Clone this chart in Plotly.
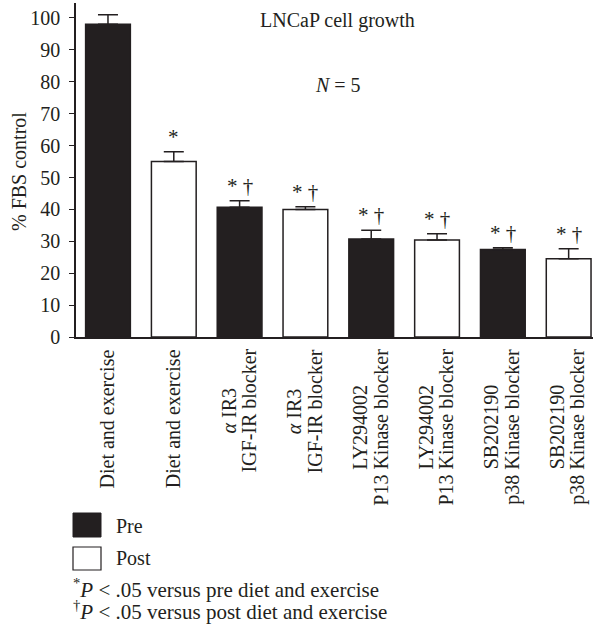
import plotly.graph_objects as go

# LNCaP cell growth under serum from pre/post diet-and-exercise subjects
categories = [
    "Diet and exercise",
    "Diet and exercise",
    "<i>α</i> IR3<br>IGF-IR blocker",
    "<i>α</i> IR3<br>IGF-IR blocker",
    "LY294002<br>P13 Kinase blocker",
    "LY294002<br>P13 Kinase blocker",
    "SB202190<br>p38 Kinase blocker",
    "SB202190<br>p38 Kinase blocker",
]
groups = ["Pre", "Post", "Pre", "Post", "Pre", "Post", "Pre", "Post"]
values = [98.0, 55.0, 40.7, 40.0, 30.7, 30.4, 27.4, 24.5]
errors = [3.0, 3.1, 2.0, 0.8, 2.8, 2.0, 0.6, 3.2]
marks = ["", "*", "* †", "* †", "* †", "* †", "* †", "* †"]

y_ticks = [0, 10, 20, 30, 40, 50, 60, 70, 80, 90, 100]

INK = "#231f20"
FONT = "Times New Roman, Liberation Serif, serif"
FS = 20

W, H = 597, 627
L, R, T, B = 76, 4, 3, 290
pw, ph = W - L - R, H - T - B


def px(x):
    return (x - L) / pw


def py(y):
    return (H - B - y) / ph


def txt(size=FS):
    return dict(family=FONT, size=size, color=INK)


fig = go.Figure()

for grp, fill in (("Pre", INK), ("Post", "white")):
    idx = [i for i, g in enumerate(groups) if g == grp]
    fig.add_trace(go.Bar(
        x=idx,
        y=[values[i] for i in idx],
        width=0.68,
        name=grp,
        marker=dict(color=fill, line=dict(color=INK, width=1.5)),
        error_y=dict(type="data", symmetric=False,
                     array=[errors[i] for i in idx],
                     arrayminus=[0] * len(idx),
                     color=INK, thickness=1.5, width=10),
        showlegend=False,
    ))

annotations = []

# significance marks above the error bars
for i, (v, e, m) in enumerate(zip(values, errors, marks)):
    if m:
        annotations.append(dict(x=i, y=v + e, xref="x", yref="y", text=m,
                                showarrow=False, yanchor="bottom", yshift=1,
                                font=txt(21)))

# rotated category labels under the axis; the base font is smaller so the
# line pitch stays tight while each line is drawn at full size
for i, c in enumerate(categories):
    body = "<br>".join(f"<span style='font-size:{FS}px'>{ln}</span>"
                       for ln in c.split("<br>"))
    annotations.append(dict(x=i, y=0, xref="x", yref="paper", text=body,
                            showarrow=False, textangle=-90, align="center",
                            xanchor="center", yanchor="top",
                            xshift=-1, yshift=-10, font=txt(16)))

annotations += [
    dict(x=px(19), y=py(172), xref="paper", yref="paper", text="% FBS control",
         showarrow=False, textangle=-90, xanchor="center", yanchor="middle",
         font=txt()),
    dict(x=px(337), y=py(20), xref="paper", yref="paper", text="LNCaP cell growth",
         showarrow=False, xanchor="center", yanchor="middle", font=txt()),
    dict(x=px(338), y=py(85), xref="paper", yref="paper", text="<i>N</i> = 5",
         showarrow=False, xanchor="center", yanchor="middle", font=txt()),
    dict(x=px(114), y=py(526), xref="paper", yref="paper", text="Pre",
         showarrow=False, xanchor="left", yanchor="middle", font=txt()),
    dict(x=px(114), y=py(558), xref="paper", yref="paper", text="Post",
         showarrow=False, xanchor="left", yanchor="middle", font=txt()),
    dict(x=px(71), y=py(588), xref="paper", yref="paper",
         text="<sup>*</sup><i>P</i> &lt; .05 versus pre diet and exercise",
         showarrow=False, xanchor="left", yanchor="middle", font=txt(21)),
    dict(x=px(71), y=py(610), xref="paper", yref="paper",
         text="<sup>†</sup><i>P</i> &lt; .05 versus post diet and exercise",
         showarrow=False, xanchor="left", yanchor="middle", font=txt(21)),
]

# legend swatches
shapes = [
    dict(type="rect", xref="paper", yref="paper",
         x0=px(73), x1=px(101), y0=py(537), y1=py(513),
         fillcolor=INK, line=dict(color=INK, width=1)),
    dict(type="rect", xref="paper", yref="paper",
         x0=px(73), x1=px(101), y0=py(570), y1=py(547),
         fillcolor="white", line=dict(color=INK, width=1.2)),
]

fig.update_layout(
    width=W, height=H,
    margin=dict(l=L, r=R, t=T, b=B),
    paper_bgcolor="white", plot_bgcolor="white",
    bargap=0.3,
    annotations=annotations,
    shapes=shapes,
    font=txt(),
    xaxis=dict(range=[-0.486, 7.37], showticklabels=False, ticks="",
               showgrid=False, zeroline=False,
               showline=True, linecolor=INK, linewidth=1.5),
    yaxis=dict(range=[0, 104.7], tickvals=y_ticks, ticks="outside",
               ticklen=5, tickwidth=1.2, tickcolor=INK,
               ticklabelstandoff=5, tickfont=txt(),
               showgrid=False, zeroline=False,
               showline=True, linecolor=INK, linewidth=1.5),
)

fig.write_html("out.html")
